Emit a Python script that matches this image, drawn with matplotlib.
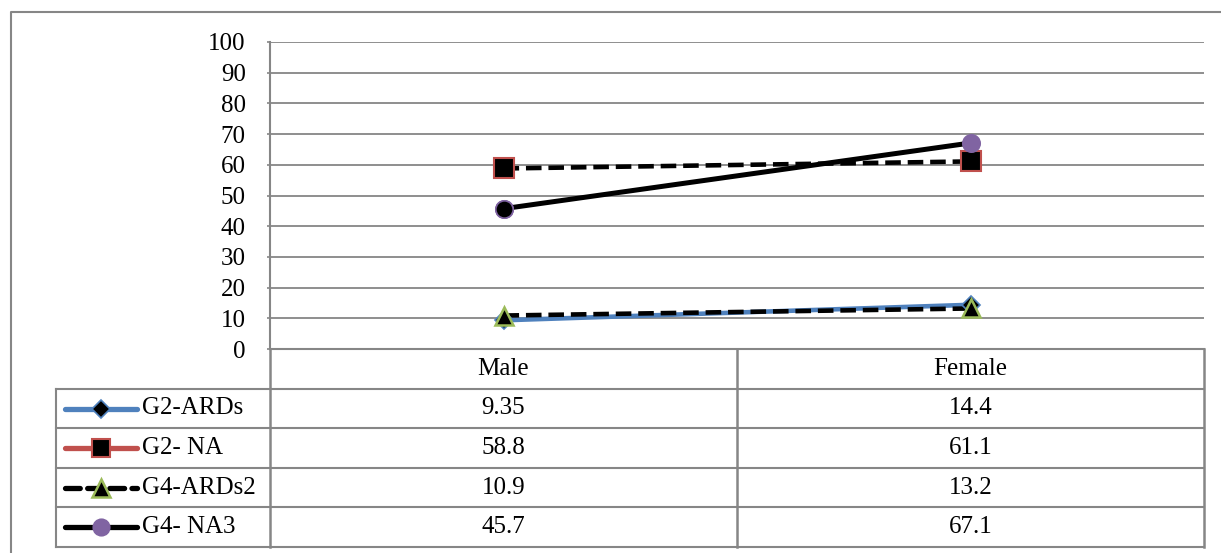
import numpy as np
import matplotlib.pyplot as plt
from matplotlib.lines import Line2D

plt.rcParams['font.family'] = ['Liberation Serif', 'DejaVu Serif']

categories = ["Male", "Female"]
series_names = ["G2-ARDs", "G2- NA", "G4-ARDs2", "G4- NA3"]
g2_ards = [9.35, 14.4]
g2_na = [58.8, 61.1]
g4_ards2 = [10.9, 13.2]
g4_na3 = [45.7, 67.1]
table_text = [["9.35", "14.4"], ["58.8", "61.1"], ["10.9", "13.2"], ["45.7", "67.1"]]
y_ticks = [0, 10, 20, 30, 40, 50, 60, 70, 80, 90, 100]

GRID = "#868686"
BLUE = "#4F81BD"
RED = "#C0504D"
GREEN = "#9BBB59"
PURPLE = "#8064A2"
FS = 18

W, H = 1221, 553
fig = plt.figure(figsize=(W / 100, H / 100), dpi=100)

# plot area in pixels
px_l, px_r, px_t, px_b = 270, 1204, 42, 349
ax = fig.add_axes([px_l / W, 1 - px_b / H, (px_r - px_l) / W, (px_b - px_t) / H])
x = np.arange(len(categories))

DASH = (0, (3.4, 1.5))
styles = [
    dict(color=BLUE, lw=3.3, ls="-", marker="D", ms=9.5, mfc="black", mec=BLUE, mew=1.2),
    dict(color="black", lw=3.3, ls=DASH, marker="s", ms=14, mfc="black", mec=RED, mew=1.5),
    dict(color="black", lw=3.3, ls=DASH, marker="^", ms=13, mfc="black", mec=GREEN, mew=1.8),
    dict(color="black", lw=3.6, ls="-", marker="o", ms=12.5, mfc=PURPLE, mec=PURPLE, mew=1.2),
]
data = [g2_ards, g2_na, g4_ards2, g4_na3]

for i, (vals, st) in enumerate(zip(data, styles)):
    ax.plot(x, vals, color=st["color"], lw=st["lw"], ls=st["ls"],
            solid_capstyle="butt", dash_capstyle="butt", zorder=3 + i * 0.1)
for i, (vals, st) in enumerate(zip(data, styles)):
    ax.plot(x, vals, ls="none", marker=st["marker"], ms=st["ms"],
            mfc=st["mfc"], mec=st["mec"], mew=st["mew"], zorder=5 + i * 0.1)
# male NA3 marker drawn with dark fill as in the original
ax.plot(x[:1], g4_na3[:1], ls="none", marker="o", ms=12.5, mfc="black",
        mec=PURPLE, mew=1.2, zorder=5.5)

ax.set_xlim(-0.5, len(categories) - 0.5)
ax.set_ylim(0, 100)
ax.set_yticks(y_ticks)
ax.set_xticks([])
ax.tick_params(axis="y", direction="out", length=2.5, width=1.2, color=GRID,
               labelsize=FS, pad=15)
ax.grid(axis="y", color=GRID, lw=1.3)
ax.set_axisbelow(True)
for s in ["top", "right", "bottom"]:
    ax.spines[s].set_visible(False)
ax.spines["left"].set_color(GRID)
ax.spines["left"].set_linewidth(1.5)
ax.patch.set_alpha(0)

# overlay axes in pixel coordinates for the data table and frame
ov = fig.add_axes([0, 0, 1, 1], zorder=-1)
ov.set_xlim(0, W)
ov.set_ylim(H, 0)
ov.axis("off")

# outer chart border
ov.plot([11, 11, W + 5], [H + 5, 12, 12], color=GRID, lw=1.5)

row_y = [349, 389, 428, 468, 507, 547]
leg_l = 56
col_x = [px_l, (px_l + px_r) / 2, px_r]

ov.plot([px_l, px_r], [row_y[0], row_y[0]], color=GRID, lw=1.5)
for yy in row_y[1:]:
    ov.plot([leg_l, px_r], [yy, yy], color=GRID, lw=1.5)
ov.plot([leg_l, leg_l], [row_y[1], row_y[-1]], color=GRID, lw=1.5)
for xx in col_x:
    ov.plot([xx, xx], [row_y[0], row_y[-1]], color=GRID, lw=1.8)

centers_x = [(col_x[0] + col_x[1]) / 2, (col_x[1] + col_x[2]) / 2]
for cx, cat in zip(centers_x, categories):
    ov.text(cx, (row_y[0] + row_y[1]) / 2, cat, ha="center", va="center", fontsize=FS)

key_colors = [BLUE, RED, "black", "black"]
for r, (name, st) in enumerate(zip(series_names, styles)):
    cy = (row_y[r + 1] + row_y[r + 2]) / 2
    ov.add_line(Line2D([65, 137], [cy, cy], color=key_colors[r],
                       lw=3.8, ls=(0, (2.8, 1.4)) if r == 2 else "-",
                       solid_capstyle="round", dash_capstyle="round"))
    ov.plot([101], [cy], ls="none", marker=st["marker"], ms=st["ms"] * 0.95,
            mfc=st["mfc"], mec=st["mec"], mew=st["mew"])
    ov.text(142, cy, name, ha="left", va="center", fontsize=FS)
    for c in range(len(categories)):
        ov.text(centers_x[c], cy, table_text[r][c], ha="center", va="center", fontsize=FS)

fig.savefig("out.png", dpi=100)
